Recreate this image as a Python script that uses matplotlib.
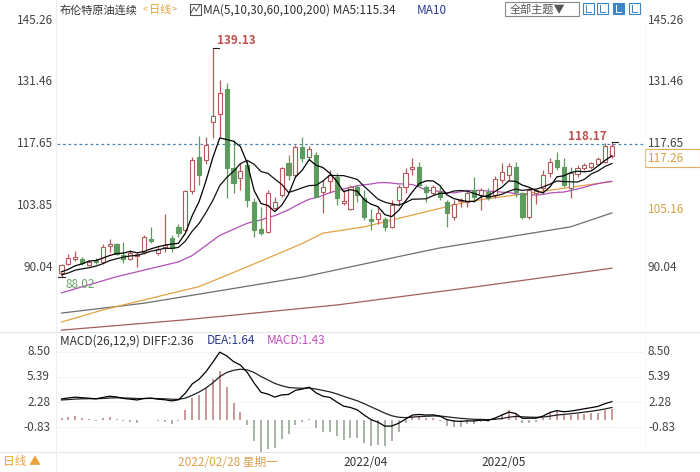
import numpy as np
import pandas as pd
import matplotlib
matplotlib.use("Agg")
import matplotlib.pyplot as plt
from matplotlib.patches import Rectangle

plt.rcParams['font.family'] = ['Noto Sans CJK SC', 'DejaVu Sans']

# ---------------- data ----------------
opens = [89.0, 90.9, 92.1, 92.0, 90.8, 91.8, 91.4, 95.0, 95.3, 92.9,
         92.0, 92.6, 93.7, 96.4, 93.3, 94.8, 96.7, 99.1, 98.5, 107.2,
         114.8, 114.1, 122.6, 124.3, 129.8, 112.2, 110.0, 113.0, 104.8, 98.7,
         98.1, 103.3, 106.3, 113.4, 110.7, 117.0, 114.8, 115.2, 107.0, 109.3,
         110.4, 104.6, 103.1, 108.1, 105.6, 101.0, 100.9, 100.9, 99.2, 105.2,
         108.1, 112.0, 112.5, 108.1, 106.7, 107.0, 104.8, 101.3, 104.9, 104.8,
         107.4, 106.3, 107.0, 106.3, 109.6, 110.7, 112.6, 106.7, 101.3, 106.7,
         107.8, 111.1, 114.1, 112.5, 107.8, 111.0, 112.2, 112.5, 113.2, 113.7,
         114.9]
highs = [91.0, 93.2, 93.9, 92.4, 91.8, 92.3, 95.3, 96.4, 95.7, 95.9,
         94.0, 93.6, 97.3, 99.2, 94.9, 102.1, 97.4, 99.8, 107.5, 114.8,
         119.5, 119.3, 139.13, 132.0, 131.2, 118.5, 113.4, 114.1, 105.6, 103.7,
         107.4, 105.9, 112.6, 115.2, 117.4, 119.3, 117.1, 115.9, 109.6, 111.9,
         111.1, 107.4, 108.5, 108.5, 107.4, 103.1, 103.6, 101.5, 105.2, 108.5,
         112.2, 114.5, 113.7, 108.5, 108.5, 108.1, 105.2, 105.2, 105.6, 107.4,
         110.4, 107.8, 107.8, 110.5, 113.4, 113.4, 113.7, 107.0, 107.8, 107.6,
         111.9, 114.5, 115.9, 114.5, 112.6, 112.9, 113.5, 113.7, 114.8, 117.9,
         118.17]
lows = [88.02, 90.6, 91.7, 90.8, 90.4, 90.9, 91.0, 93.7, 92.9, 91.1,
        91.8, 90.2, 93.2, 95.6, 92.9, 93.7, 93.7, 97.0, 98.0, 106.5,
        108.5, 113.3, 118.9, 119.3, 105.6, 106.7, 107.4, 103.7, 97.0, 97.4,
        97.8, 103.0, 105.9, 109.6, 110.4, 113.7, 114.1, 105.9, 102.2, 106.7,
        104.1, 104.1, 102.9, 104.8, 100.7, 98.5, 99.9, 98.3, 98.9, 103.8,
        106.7, 110.7, 108.1, 104.8, 106.3, 105.2, 99.2, 100.7, 103.7, 103.7,
        104.8, 103.0, 105.2, 105.6, 108.9, 109.6, 105.9, 100.9, 100.9, 104.4,
        106.7, 110.4, 111.8, 108.1, 105.6, 110.4, 111.8, 112.1, 112.9, 113.5,
        114.5]
closes = [90.7, 92.2, 92.5, 91.1, 91.4, 91.4, 94.8, 95.4, 93.2, 92.0,
          93.3, 93.2, 96.9, 96.1, 94.3, 95.1, 94.4, 97.8, 107.2, 114.0,
          110.8, 117.4, 123.9, 128.9, 112.2, 108.9, 111.6, 105.2, 98.5, 97.8,
          106.7, 104.8, 112.2, 110.7, 117.0, 114.5, 116.5, 105.9, 108.1, 110.7,
          105.6, 104.9, 108.1, 106.3, 101.3, 100.6, 102.2, 99.2, 104.1, 108.1,
          111.1, 112.5, 108.5, 107.0, 108.1, 105.9, 102.2, 104.3, 105.2, 106.7,
          105.8, 107.4, 105.6, 109.8, 111.5, 112.8, 107.0, 101.3, 107.4, 107.4,
          110.7, 113.7, 112.5, 108.5, 111.1, 112.2, 113.0, 113.4, 114.2, 117.2,
          117.26]
# closes just before the first visible session (warm-up of MA5 / MA10)
prior_closes = [87.9, 86.3, 88.2, 88.9, 87.9, 89.3, 88.6, 89.0, 88.3]

# long moving averages (session index, value)
ma30_early_idx = [0, 8, 17, 19, 23, 27]
ma30_early_val = [84.5, 88.1, 91.4, 92.8, 97.3, 100.0]
ma60_idx = [0, 6, 20, 27, 35, 38, 44, 48, 54, 59, 64, 68, 73, 80]
ma60_val = [78.0, 80.7, 85.9, 90.3, 95.5, 97.8, 99.2, 100.7, 102.95, 104.8, 105.9, 106.7, 107.8, 109.3]
ma100_idx = [0, 12, 35, 50, 55, 74, 80]
ma100_val = [80.0, 82.2, 88.0, 92.9, 94.5, 99.2, 102.3]
ma200_idx = [0, 18, 40, 60, 80]
ma200_val = [76.2, 78.5, 81.8, 85.8, 90.0]

# MACD state before the first visible session
ema12_start, ema26_start, dea_start = 87.6, 85.0, 2.5

price_ticks = [145.26, 131.46, 117.65, 103.85, 90.04]
right_price_ticks = [145.26, 131.46, 117.65, 90.04]
macd_ticks = [8.50, 5.39, 2.28, -0.83]
date_idx = [17, 41, 61]
date_text = ['2022/02/28 星期一', '2022/04', '2022/05']
last_price_line = 117.65

# ---------------- computations ----------------
n = len(closes)
idx = np.arange(n)
allc = pd.Series(prior_closes + closes)
n0 = len(prior_closes)
ma5 = allc.rolling(5).mean().values[n0:]
ma10 = allc.rolling(10).mean().values[n0:]
ma30_late = pd.Series(closes).rolling(30).mean().values
ma30_x = list(ma30_early_idx) + list(range(29, n))
ma30_y = list(ma30_early_val) + list(ma30_late[29:])

diff_l, dea_l, hist_l = [], [], []
e12, e26, dea = ema12_start, ema26_start, dea_start
for c in closes:
    e12 = e12 + (c - e12) * 2 / 13
    e26 = e26 + (c - e26) * 2 / 27
    d = e12 - e26
    dea = dea + (d - dea) * 2 / 10
    diff_l.append(d)
    dea_l.append(dea)
    hist_l.append(2 * (d - dea))

# ---------------- figure ----------------
W, H = 700, 472
fig = plt.figure(figsize=(W / 100, H / 100), dpi=100)
fig.patch.set_facecolor('white')


def fx(x):
    return x / W


def fy(y):
    return 1 - y / H


def ftext(x, y, s, **kw):
    kw.setdefault('va', 'center')
    kw.setdefault('fontsize', 8.5)
    fig.text(fx(x), fy(y), s, **kw)


PX_L, PX_R = 57, 645
X0PX, DX = 61.5, 6.88
xlim = (-(X0PX - PX_L) / DX, (PX_R - X0PX) / DX)

# main price panel
P_TOP_PX, P_BOT_PX = 12, 334
PPU = 4.491


def py(p):
    return 20 + (145.26 - p) * PPU


ax = fig.add_axes([fx(PX_L), fy(P_BOT_PX), fx(PX_R - PX_L), (P_BOT_PX - P_TOP_PX) / H])
ax.set_xlim(*xlim)
ax.set_ylim(145.26 - (P_BOT_PX - 20) / PPU, 145.26 + (20 - P_TOP_PX) / PPU)
ax.axis('off')

up_col = '#b35a5a'
dn_col = '#5e9b5e'
for i in range(n):
    o, h, l, c = opens[i], highs[i], lows[i], closes[i]
    col = up_col if c >= o else dn_col
    ax.vlines(i, l, h, color=col, lw=0.9, zorder=2)
    bot = min(o, c)
    hgt = max(abs(c - o), 0.12)
    face = 'white' if c >= o else dn_col
    ax.add_patch(Rectangle((i - 0.3, bot), 0.6, hgt, facecolor=face,
                           edgecolor=col, lw=0.8, zorder=3))

ax.plot(ma200_idx, ma200_val, color='#a0605a', lw=0.9, zorder=1)
ax.plot(ma100_idx, ma100_val, color='#6e6e6e', lw=0.9, zorder=1)
ax.plot(ma60_idx, ma60_val, color='#e3a145', lw=0.9, zorder=1)
ax.plot(ma30_x, ma30_y, color='#b24fb5', lw=0.9, zorder=1)
ax.plot(idx, ma10, color='#111111', lw=0.9, zorder=4)
ax.plot(idx, ma5, color='#000000', lw=0.9, zorder=4)

ax.axhline(last_price_line, color='#4f86b0', lw=0.9, ls=(0, (2.2, 2.2)), zorder=0)

# extreme marks
ax.plot([22, 22.9], [139.13, 139.13], color='#222', lw=0.8, zorder=5)
ax.plot([-0.5, 0.5], [88.02, 88.02], color='#222', lw=0.8, zorder=5)
ax.plot([80, 80.9], [118.17, 118.17], color='#222', lw=0.8, zorder=5)

ftext(217, 40, '139.13', color='#c0504d', fontsize=8.5, fontweight='bold')
ftext(66, 285, '88.02', color='#6aa06a', fontsize=8.5)
ftext(568, 136, '118.17', color='#c0504d', fontsize=8.5, fontweight='bold')

# price tick labels
for p in price_ticks:
    ftext(53, py(p), f'{p:.2f}', ha='right', color='#444')
for p in right_price_ticks:
    ftext(648, py(p), f'{p:.2f}', ha='left', color='#444')
fig.patches.append(Rectangle((fx(645), fy(167)), fx(700 - 645), (167 - 149) / H,
                             transform=fig.transFigure, facecolor='white',
                             edgecolor='#e0b060', lw=0.8))
ftext(648, 158, '117.26', ha='left', color='#d9a04a')
ftext(648, 210, '105.16', ha='left', color='#d9a04a')

# title row
ftext(60, 10, '布伦特原油连续', color='#333', fontsize=8.0)
ftext(143, 10, '<', color='#e8a33c', fontsize=6.5)
ftext(149, 10, '日线', color='#e8a33c', fontsize=8.0)
ftext(172, 10, '>', color='#e8a33c', fontsize=6.5)
fig.patches.append(Rectangle((fx(190), fy(15)), fx(11), 11 / H, transform=fig.transFigure,
                             facecolor='white', edgecolor='#555', lw=0.8))
fig.lines.append(plt.Line2D([fx(191), fx(194), fx(196), fx(200)],
                            [fy(13), fy(7), fy(11), fy(5)],
                            transform=fig.transFigure, color='#555', lw=0.7))
ftext(203, 10, 'MA(5,10,30,60,100,200) MA5:115.34', color='#333', fontsize=8.5)
ftext(417, 10, 'MA10', color='#2b3a8c', fontsize=8.5)
fig.patches.append(Rectangle((fx(505), fy(16)), fx(74), 14 / H, transform=fig.transFigure,
                             facecolor='white', edgecolor='#888', lw=0.8))
ftext(510, 9, '全部主题▼', color='#555', fontsize=8)
for k, x0 in enumerate([583, 597, 613, 629]):
    filled = (k == 2)
    fig.patches.append(Rectangle((fx(x0), fy(14)), fx(11), 11 / H, transform=fig.transFigure,
                                 facecolor='#3d86c6' if filled else 'white',
                                 edgecolor='#3d86c6', lw=0.8))
    fig.lines.append(plt.Line2D([fx(x0 + 3), fx(x0 + 3), fx(x0 + 8)],
                                [fy(5), fy(12), fy(12)], transform=fig.transFigure,
                                color='white' if filled else '#3d86c6', lw=0.7))

# MACD panel
M_TOP_PX, M_BOT_PX = 336, 452
MPU = 8.04


def my(v):
    return 402 - (v - 2.28) * MPU


ax2 = fig.add_axes([fx(PX_L), fy(M_BOT_PX), fx(PX_R - PX_L), (M_BOT_PX - M_TOP_PX) / H])
ax2.set_xlim(*xlim)
ax2.set_ylim(2.28 - (M_BOT_PX - 402) / MPU, 2.28 + (402 - M_TOP_PX) / MPU)
ax2.axis('off')
for v in macd_ticks:
    ax2.axhline(v, color='#dddddd', lw=0.6, ls=(0, (1, 2)), zorder=0)
hist = np.array(hist_l)
ax2.vlines(idx[hist >= 0], 0, hist[hist >= 0], color='#c07a7a', lw=1.1)
ax2.vlines(idx[hist < 0], 0, hist[hist < 0], color='#8f9f8f', lw=1.1)
ax2.plot(idx, dea_l, color='#222', lw=0.9)
ax2.plot(idx, diff_l, color='#000', lw=0.9)

ftext(60, 341, 'MACD(26,12,9) DIFF:2.36', color='#333', fontsize=8.5)
ftext(207, 341, 'DEA:1.64', color='#2b3a8c', fontsize=8.5)
ftext(267, 341, 'MACD:1.43', color='#c04fc0', fontsize=8.5)
for v in macd_ticks:
    ftext(50, my(v), f'{v:.2f}', ha='right', color='#444')
    ftext(648, my(v), f'{v:.2f}', ha='left', color='#444')

# separators
for y in [332, 452]:
    fig.lines.append(plt.Line2D([0, 1], [fy(y), fy(y)], transform=fig.transFigure,
                                color='#e6e6e6', lw=0.8))
fig.lines.append(plt.Line2D([fx(56), fx(56)], [fy(472), fy(0)], transform=fig.transFigure,
                            color='#eeeeee', lw=0.8))
fig.lines.append(plt.Line2D([fx(645), fx(645)], [fy(452), fy(20)], transform=fig.transFigure,
                            color='#e8e8e8', lw=0.6, ls=(0, (1, 2))))

# bottom bar
ftext(3, 462, '日线 ▲', color='#e8a33c', fontsize=8.5)
for i, s in zip(date_idx, date_text):
    xpx = X0PX + i * DX
    col = '#e0a050' if '星期' in s else '#333'
    ftext(xpx, 462, s, color=col, fontsize=8.5)

fig.savefig('out.png', dpi=100, facecolor='white')
